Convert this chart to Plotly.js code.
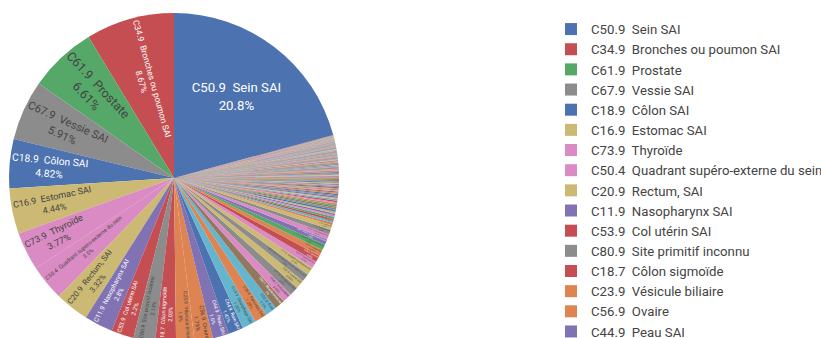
<!DOCTYPE html>
<html>
<head>
<meta charset="utf-8">
<script src="https://cdn.plot.ly/plotly-3.0.1.min.js"></script>
<style>
html,body{margin:0;padding:0;overflow:hidden;background:#fff;width:821px;height:338px;}
#chart{width:850px;height:345px;}
</style>
</head>
<body>
<div id="chart"></div>
<script>
// Main localisations (percent of cases)
var topLabels = [
  "C50.9  Sein SAI", "C34.9  Bronches ou poumon SAI", "C61.9  Prostate", "C67.9  Vessie SAI",
  "C18.9  Côlon SAI", "C16.9  Estomac SAI", "C73.9  Thyroïde", "C50.4  Quadrant supéro-externe du sein",
  "C20.9  Rectum, SAI", "C11.9  Nasopharynx SAI", "C53.9  Col utérin SAI", "C80.9  Site primitif inconnu",
  "C18.7  Côlon sigmoïde", "C23.9  Vésicule biliaire", "C56.9  Ovaire", "C44.9  Peau SAI"
];
var topValues = [20.8, 8.67, 6.61, 5.91, 4.82, 4.44, 3.77, 3.5, 3.32, 2.8, 2.2, 2.13, 2.03, 1.8, 1.79, 1.6];

var midLabels = [
  "C64.9  Rein SAI", "C15.9  Oesophage SAI", "C25.9  Pancréas SAI", "C22.0  Foie",
  "C42.1  Moelle osseuse", "C54.1  Endomètre", "C71.9  Encéphale SAI", "C32.9  Larynx SAI",
  "C50.8  Lésion à localisations contiguës du sein", "C77.9  Ganglion lymphatique SAI", "C62.9  Testicule SAI", "C18.0  Caecum",
  "C02.9  Langue SAI", "C19.9  Jonction recto-sigmoïdienne", "C50.2  Quadrant supéro-interne du sein", "C49.9  Tissu conjonctif SAI",
  "C44.3  Peau de la face", "C16.0  Cardia SAI"
];
var midValues = [1.47, 1.36, 1.25, 1.1, 1.0, 0.95, 0.9, 0.85, 0.8, 0.75, 0.7, 0.66, 0.62, 0.58, 0.55, 0.52, 0.48, 0.45];

var tailLabels = [
  "C00.0  Lèvre supérieure externe", "C00.1  Lèvre inférieure externe", "C00.9  Lèvre SAI", "C01.9  Base de la langue",
  "C02.0  Face dorsale de la langue", "C02.1  Bord de la langue", "C02.2  Face ventrale de la langue", "C03.0  Gencive supérieure",
  "C03.1  Gencive inférieure", "C03.9  Gencive SAI", "C04.9  Plancher de la bouche SAI", "C05.0  Palais dur",
  "C05.1  Voile du palais", "C05.9  Palais SAI", "C06.0  Muqueuse de la joue", "C06.9  Bouche SAI",
  "C07.9  Glande parotide", "C08.0  Glande sous-maxillaire", "C08.9  Glande salivaire principale SAI", "C09.9  Amygdale SAI",
  "C10.9  Oropharynx SAI", "C11.0  Paroi supérieure du nasopharynx", "C12.9  Sinus piriforme", "C13.9  Hypopharynx SAI",
  "C14.0  Pharynx SAI", "C15.3  Tiers supérieur de l'oesophage", "C15.4  Tiers moyen de l'oesophage", "C15.5  Tiers inférieur de l'oesophage",
  "C16.1  Fundus de l'estomac", "C16.2  Corps de l'estomac", "C16.3  Antre pylorique", "C16.4  Pylore",
  "C16.5  Petite courbure de l'estomac SAI", "C16.6  Grande courbure de l'estomac SAI", "C17.0  Duodénum", "C17.1  Jéjunum",
  "C17.2  Iléon", "C17.9  Intestin grêle SAI", "C18.1  Appendice", "C18.2  Côlon ascendant",
  "C18.3  Angle hépatique du côlon", "C18.4  Côlon transverse", "C18.5  Angle splénique du côlon", "C18.6  Côlon descendant",
  "C21.0  Anus SAI", "C21.1  Canal anal", "C22.1  Voies biliaires intrahépatiques", "C24.0  Voies biliaires extrahépatiques",
  "C24.1  Ampoule de Vater", "C24.9  Voies biliaires SAI", "C25.0  Tête du pancréas", "C25.1  Corps du pancréas",
  "C25.2  Queue du pancréas", "C26.9  Tube digestif SAI", "C30.0  Fosse nasale", "C31.0  Sinus maxillaire",
  "C31.9  Sinus de la face SAI", "C32.0  Glotte", "C32.1  Sus-glotte", "C34.0  Bronche souche",
  "C34.1  Lobe supérieur du poumon", "C34.2  Lobe moyen du poumon", "C34.3  Lobe inférieur du poumon", "C37.9  Thymus",
  "C38.0  Coeur", "C38.1  Médiastin antérieur", "C38.3  Médiastin SAI", "C38.4  Plèvre SAI",
  "C40.0  Os longs du membre supérieur", "C40.2  Os longs du membre inférieur", "C41.0  Os du crâne et de la face", "C41.2  Rachis",
  "C41.4  Os du bassin", "C41.9  Os SAI", "C42.0  Sang", "C42.2  Rate",
  "C44.0  Peau de la lèvre SAI", "C44.1  Paupière", "C44.2  Oreille externe", "C44.4  Cuir chevelu et cou",
  "C44.5  Peau du tronc", "C44.6  Peau du membre supérieur", "C44.7  Peau du membre inférieur", "C47.9  Système nerveux autonome SAI",
  "C48.0  Rétropéritoine", "C48.2  Péritoine SAI", "C49.0  Tissu conjonctif de la tête", "C49.1  Tissu conjonctif du membre supérieur",
  "C49.2  Tissu conjonctif du membre inférieur", "C50.0  Mamelon", "C50.1  Partie centrale du sein", "C50.3  Quadrant inféro-interne du sein",
  "C50.5  Quadrant inféro-externe du sein", "C50.6  Prolongement axillaire du sein", "C51.9  Vulve SAI", "C52.9  Vagin SAI",
  "C53.0  Endocol", "C53.1  Exocol", "C54.9  Corps utérin", "C55.9  Utérus SAI",
  "C57.0  Trompe de Fallope", "C57.9  Appareil génital féminin SAI", "C60.9  Pénis SAI", "C65.9  Bassinet",
  "C66.9  Uretère", "C67.0  Trigone vésical", "C67.2  Paroi latérale de la vessie", "C67.4  Paroi postérieure de la vessie",
  "C68.0  Urètre", "C69.2  Rétine", "C69.6  Orbite SAI", "C69.9  Oeil SAI",
  "C70.0  Méninges cérébrales", "C71.0  Cerveau", "C71.1  Lobe frontal", "C71.2  Lobe temporal",
  "C71.3  Lobe pariétal", "C71.4  Lobe occipital", "C71.6  Cervelet SAI", "C71.7  Tronc cérébral",
  "C72.0  Moelle épinière", "C72.9  Système nerveux SAI", "C74.0  Cortex surrénalien", "C74.9  Glande surrénale SAI",
  "C75.1  Hypophyse", "C76.0  Tête, face ou cou SAI", "C76.2  Abdomen SAI", "C76.3  Pelvis SAI",
  "C77.0  Ganglions de la tête et du cou", "C77.1  Ganglions intrathoraciques", "C77.2  Ganglions intra-abdominaux", "C77.3  Ganglions axillaires",
  "C77.4  Ganglions inguinaux", "C77.8  Ganglions de régions multiples", "C04.0  Plancher antérieur de la bouche", "C06.2  Région rétromolaire",
  "C09.0  Fosse amygdalienne", "C10.0  Vallécule", "C13.0  Région rétrocricoïdienne", "C26.0  Tractus intestinal SAI",
  "C30.1  Oreille moyenne", "C31.1  Sinus ethmoïdal", "C32.2  Sous-glotte", "C33.9  Trachée",
  "C34.8  Lésion à localisations contiguës du poumon", "C39.9  Appareil respiratoire SAI", "C40.9  Os des membres SAI", "C44.8  Lésion à localisations contiguës de la peau",
  "C48.1  Parties spécifiées du péritoine", "C63.9  Appareil génital masculin SAI"
];
var tailValues = [
  0.22, 0.21, 0.2, 0.19, 0.18, 0.18, 0.17, 0.17, 0.16, 0.16,
  0.15, 0.15, 0.14, 0.14, 0.14, 0.13, 0.13, 0.13, 0.12, 0.12,
  0.12, 0.11, 0.11, 0.11, 0.11, 0.1, 0.1, 0.1, 0.1, 0.1,
  0.09, 0.09, 0.09, 0.09, 0.09, 0.09, 0.08, 0.08, 0.08, 0.08,
  0.08, 0.08, 0.08, 0.07, 0.07, 0.07, 0.07, 0.07, 0.07, 0.07,
  0.07, 0.06, 0.06, 0.06, 0.06, 0.06, 0.06, 0.06, 0.06, 0.06,
  0.05, 0.05, 0.05, 0.05, 0.05, 0.05, 0.05, 0.05, 0.05, 0.05,
  0.05, 0.05, 0.04, 0.04, 0.04, 0.04, 0.04, 0.04, 0.04, 0.04,
  0.04, 0.04, 0.04, 0.04, 0.04, 0.03, 0.03, 0.03, 0.03, 0.03,
  0.03, 0.03, 0.03, 0.03, 0.03, 0.03, 0.03, 0.03, 0.03, 0.03,
  0.02, 0.02, 0.02, 0.02, 0.02, 0.02, 0.02, 0.02, 0.02, 0.02,
  0.02, 0.02, 0.02, 0.02, 0.02, 0.02, 0.02, 0.02, 0.02, 0.02,
  0.02, 0.02, 0.02, 0.02, 0.02, 0.02, 0.02, 0.02, 0.02, 0.02,
  0.01, 0.01, 0.01, 0.01, 0.01, 0.01, 0.01, 0.01, 0.01, 0.01,
  0.01, 0.01, 0.01, 0.01, 0.01, 0.01, 0.01, 0.01, 0.01, 0.01
];

// Styles
var B="#4C72B0", O="#DD8452", G="#55A868", R="#C44E52", P="#8172B3", N="#937860", K="#DA8BC3", Y="#8C8C8C", T="#CCB974", C="#64B5CD";
var topColors = [B, R, G, Y, B, T, K, K, T, P, R, Y, R, O, O, P];
var midColors = [B, C, O, C, N, K, Y, T, Y, T, K, R, O, G, P, K, Y, T];
var tailCycle = [O, C, R, G, K, P, T, B, Y, N, G, O, K, R, C, T, P, Y, B, O, N, K];

var labels = topLabels.concat(midLabels, tailLabels);
var values = topValues.concat(midValues, tailValues);
var colors = topColors.concat(midColors);
for (var i = 0; i < tailLabels.length; i++) colors.push(tailCycle[i % tailCycle.length]);

// layout width 850 (viewport crops to 821); plot width = 850 - 9 = 841
var trace = {
  type: "pie",
  labels: labels,
  values: values,
  sort: false,
  direction: "counterclockwise",
  textinfo: "label+percent",
  textposition: "inside",
  insidetextorientation: "auto",
  marker: {colors: colors, line: {width: 0}},
  textfont: {size: 13.2},
  domain: {x: [0, 0.3924], y: [0, 1]},
  hoverinfo: "label+percent"
};

var layout = {
  width: 850,
  height: 345,
  margin: {l: 9, r: 0, t: 13, b: 2, autoexpand: false},
  font: {family: "Roboto, Liberation Sans, Arial, sans-serif", size: 13.2, color: "#444"},
  paper_bgcolor: "#fff",
  showlegend: true,
  legend: {x: 0.6445, xanchor: "left", y: 0.997, yanchor: "top", font: {size: 13.2, color: "#444"}, bgcolor: "rgba(0,0,0,0)"}
};

Plotly.newPlot("chart", [trace], layout, {displayModeBar: false, staticPlot: true});
</script>
</body>
</html>
